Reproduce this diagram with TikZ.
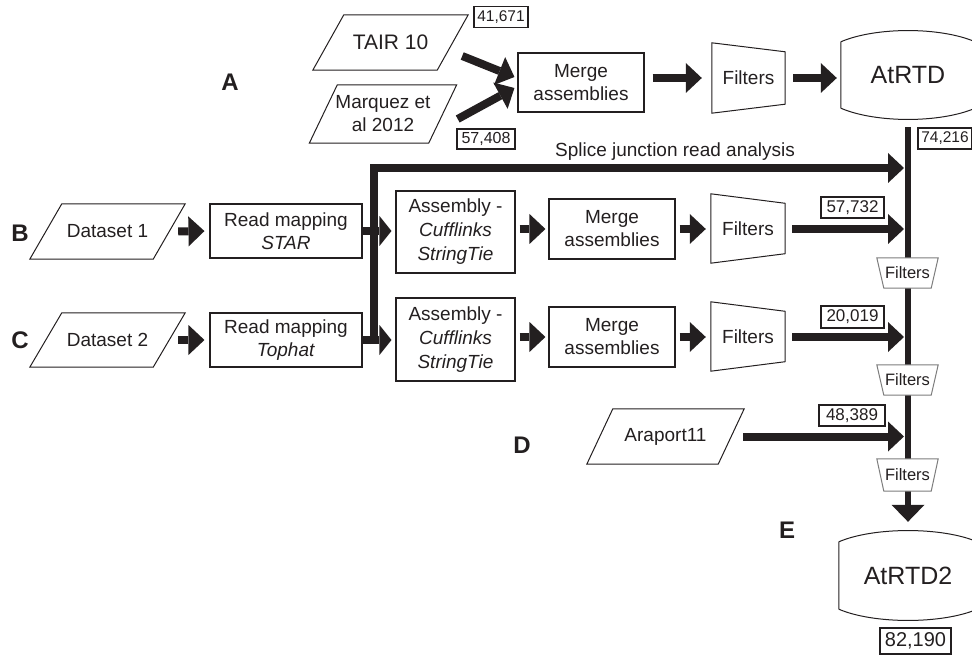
\documentclass[tikz,border=0pt]{standalone}
\usepackage{fontspec}
\setmainfont{Liberation Sans}
\usetikzlibrary{arrows.meta,calc,backgrounds}
\definecolor{ink}{RGB}{35,31,32}
\definecolor{sfgray}{RGB}{125,125,125}
\newcommand\mkparal[2]{\draw[shapeline] (#1.south west) -- ([xshift=#2]#1.north west) -- (#1.north east) -- ([xshift=-#2]#1.south east) -- cycle;}
\newcommand\mkfiltR[2]{\draw[shapeline] (#1.north west) -- ([yshift=-#2]#1.north east) -- ([yshift=#2]#1.south east) -- (#1.south west) -- cycle;}
\newcommand\mkfiltD[1]{\filldraw[fill=white, draw=sfgray, line width=1pt] (#1.north west) -- (#1.north east) -- ([xshift=-7pt]#1.south east) -- ([xshift=7pt]#1.south west) -- cycle;}
\newcommand\mkcyl[1]{\draw[shapeline] (#1.north west) .. controls ([xshift=35pt,yshift=15pt]#1.north west) and ([xshift=-35pt,yshift=15pt]#1.north east) .. (#1.north east)
  (#1.south west) .. controls ([xshift=35pt,yshift=-15pt]#1.south west) and ([xshift=-35pt,yshift=-15pt]#1.south east) .. (#1.south east)
  (#1.north west) -- (#1.south west) (#1.north east) -- (#1.south east);}
\begin{document}
\begin{tikzpicture}[x=1pt,y=-1pt,
  txt/.style={inner sep=0pt, align=center, text=ink, font=\fontsize{19}{23}\selectfont},
  box/.style={txt, draw=ink, line width=1.1pt},
  plain/.style={txt},
  shapeline/.style={draw=ink, line width=1pt, line join=miter},
  num/.style={draw=ink, line width=1.6pt, inner sep=0pt, text=ink},
  lbl/.style={inner sep=0pt, text=ink, font=\fontsize{24}{28}\selectfont\bfseries},
  fat/.style={draw=ink, line width=8pt, -{Triangle[length=16pt,width=30pt,line width=0pt]}},
  smallhead/.style={-{Triangle[length=12pt,width=30pt,line width=0pt]}},
  bar/.style={draw=ink, line width=6pt, -{Triangle[length=17pt,width=33pt,line width=0pt]}},
  sfbox/.style={inner sep=0pt, text=ink, minimum width=61pt, font=\fontsize{16.5}{19}\selectfont},
  asm/.style={box, font=\fontsize{19}{24}\selectfont, minimum width=119pt}
]
\useasboundingbox (0,0) rectangle (972,655);

% ---------- row A
\node[plain, minimum width=155pt, minimum height=55pt, font=\fontsize{21}{25}\selectfont] (tair) at (390.5,42.5) {TAIR 10};
\node[plain, minimum width=147pt, minimum height=58pt] (marq) at (383,114) {Marquez et\\al 2012};
\node[box, minimum width=126pt, minimum height=59pt] (mgA) at (581,82.5) {Merge\\assemblies};
\node[plain, minimum width=73pt, minimum height=70pt] (flA) at (748.5,78) {Filters};
\node[plain, minimum width=134pt, minimum height=66pt, font=\fontsize{25}{30}\selectfont] (atrtd) at (908,75) {AtRTD};
\mkparal{tair}{31pt}
\mkparal{marq}{28pt}
\mkfiltR{flA}{9pt}
\mkcyl{atrtd}
\node[lbl] (lA) at (230,82) {A};
\node[num, minimum width=54pt, minimum height=21pt, font=\fontsize{15.5}{18}\selectfont] (n41671) at (501,17) {41,671};
\node[num, minimum width=58pt, minimum height=20pt, font=\fontsize{16}{18}\selectfont] (n57408) at (486,139) {57,408};

\draw[fat] ($(tair.east)+(-6,13.5)$) -- ($(mgA.west)+(-3,-5.5)$);
\draw[fat] ($(marq.east)+(1,5)$) -- ($(mgA.west)+(-3,5.5)$);
\draw[fat, shorten <=8pt, shorten >=10pt] (mgA.east |- flA) -- (flA.west);
\draw[fat, shorten <=8pt, shorten >=4pt] (flA.east) -- (flA.east -| atrtd.west);

% ---------- rows B and C
\node[lbl] (lB) at (20,233) {B};
\node[lbl] (lC) at (20,340) {C};
\node[plain, minimum width=155pt, minimum height=55pt] (ds1) at (107.5,231.5) {Dataset 1};
\node[plain, minimum width=155pt, minimum height=54pt] (ds2) at (107.5,340) {Dataset 2};
\mkparal{ds1}{32pt}
\mkparal{ds2}{32pt}
\node[box, minimum width=152pt, minimum height=54pt] (rm1) at (286,231) {Read mapping\\\textit{STAR}};
\node[box, minimum width=152pt, minimum height=54pt] (rm2) at (286,340) {Read mapping\\\textit{Tophat}};
\node[asm, minimum height=82pt] (as1) at (455.5,232) {Assembly -\\\textit{Cufflinks}\\\textit{StringTie}};
\node[asm, minimum height=83pt] (as2) at (455.5,339.5) {Assembly -\\\textit{Cufflinks}\\\textit{StringTie}};
\node[box, minimum width=126pt, minimum height=60pt] (mg1) at (612,229) {Merge\\assemblies};
\node[box, minimum width=126pt, minimum height=60pt] (mg2) at (612,337) {Merge\\assemblies};
\node[plain, minimum width=74pt, minimum height=69pt] (fl1) at (748,228.5) {Filters};
\node[plain, minimum width=74pt, minimum height=69pt] (fl2) at (748,336.5) {Filters};
\mkfiltR{fl1}{9.5pt}
\mkfiltR{fl2}{9.5pt}

\coordinate (barL) at (904,0);
\coordinate (spTip) at (904,168);
\coordinate (jC) at ([xshift=11pt,yshift=-4pt]rm2.east);

\draw[fat, line join=miter] (jC) |- (spTip);
\node[txt, anchor=base] (splice) at (675,157) {Splice junction read analysis};

\draw[fat, shorten >=5pt] ([xshift=-7pt]ds1.east) -- (rm1.west);
\draw[fat, shorten >=5pt] ([xshift=-7pt]ds2.east) -- (rm2.west);
\draw[fat, smallhead, shorten >=4pt] (rm1.east) -- (rm1.east -| as1.west);
\draw[fat, smallhead, shorten >=4pt] (rm2.east) -- (rm2.east -| as2.west);
\draw[fat, shorten <=4pt, shorten >=3pt] (as1.east |- mg1) -- (mg1.west);
\draw[fat, shorten <=4pt, shorten >=3pt] (as2.east |- mg2) -- (mg2.west);
\draw[fat, shorten <=4pt, shorten >=5pt] (mg1.east) -- (mg1.east -| fl1.west);
\draw[fat, shorten <=4pt, shorten >=5pt] (mg2.east) -- (mg2.east -| fl2.west);
\draw[fat, shorten <=7pt] (fl1.east |- mg1) -- (mg1 -| barL);
\draw[fat, shorten <=7pt] (fl2.east |- mg2) -- (mg2 -| barL);

\node[num, minimum width=54pt, minimum height=21pt, font=\fontsize{15.5}{18}\selectfont] (n74216) at (945,138.5) {74,216};
\node[num, minimum width=63pt, minimum height=21pt, font=\fontsize{17}{20}\selectfont] (n57732) at (852.5,207.5) {57,732};
\node[num, minimum width=63pt, minimum height=22pt, font=\fontsize{17}{20}\selectfont] (n20019) at (852.5,317) {20,019};

% ---------- row D
\node[lbl] (lD) at (522,445) {D};
\node[plain, minimum width=157pt, minimum height=55pt] (ara) at (665.5,436.5) {Araport11};
\mkparal{ara}{26pt}
\draw[fat, shorten <=-1pt] (ara.east) -- (ara.east -| barL);
\node[num, minimum width=66pt, minimum height=21pt, font=\fontsize{17}{20}\selectfont] (n48389) at (852,415.5) {48,389};

% ---------- E
\node[lbl] (lE) at (787,530) {E};
\node[plain, minimum width=138pt, minimum height=67pt, font=\fontsize{25}{30}\selectfont] (atrtd2) at (908,575.5) {AtRTD2};
\mkcyl{atrtd2}
\node[num, minimum width=71pt, minimum height=26pt, font=\fontsize{20}{24}\selectfont] (n82190) at (915.5,641) {82,190};

% ---------- main collecting bar with small filters
\node[sfbox, minimum height=30pt] (sf1) at (907.5,273) {Filters};
\node[sfbox, minimum height=30pt] (sf2) at (907.5,380) {Filters};
\node[sfbox, minimum height=32pt] (sf3) at (907.5,475) {Filters};
\begin{scope}[on background layer]
\draw[bar] ([yshift=-19pt]atrtd.south) -- ([yshift=20pt]atrtd2.north);
\mkfiltD{sf1}
\mkfiltD{sf2}
\mkfiltD{sf3}
\end{scope}
\end{tikzpicture}
\end{document}
